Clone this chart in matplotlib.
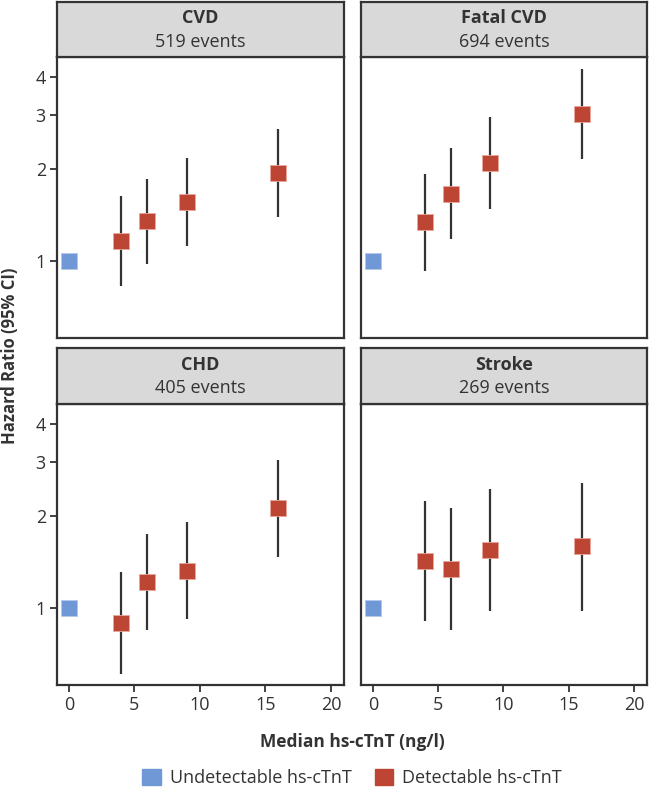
import numpy as np
import matplotlib.pyplot as plt
from matplotlib.patches import Patch

plt.rcParams['font.family'] = ['Open Sans', 'DejaVu Sans']

# data
titles = ["CVD", "Fatal CVD", "CHD", "Stroke"]
events = ["519 events", "694 events", "405 events", "269 events"]
x_det = [4, 6, 9, 16]
hr = [
    [1.16, 1.35, 1.56, 1.94],
    [1.34, 1.66, 2.09, 3.02],
    [0.89, 1.22, 1.32, 2.12],
    [1.42, 1.34, 1.55, 1.59],
]
lo = [
    [0.83, 0.98, 1.12, 1.39],
    [0.93, 1.18, 1.48, 2.15],
    [0.61, 0.85, 0.92, 1.47],
    [0.91, 0.85, 0.98, 0.98],
]
hi = [
    [1.63, 1.86, 2.17, 2.71],
    [1.93, 2.34, 2.95, 4.24],
    [1.31, 1.75, 1.91, 3.04],
    [2.24, 2.12, 2.45, 2.57],
]
ref_x = 0
ref_hr = 1.0

blue = "#7097d6"
red = "#bd4534"
dark = "#333333"

W, H = 649, 790
fig = plt.figure(figsize=(W / 100, H / 100), dpi=100)


def frac(x0, y0, x1, y1):
    return [x0 / W, 1 - y1 / H, (x1 - x0) / W, (y1 - y0) / H]


cols = [(57, 344), (361, 647)]
rows = [(2, 57, 338), (348, 404, 685)]

for i in range(4):
    r, c = divmod(i, 2)
    x0, x1 = cols[c]
    s0, p0, p1 = rows[r]
    ax = fig.add_axes(frac(x0, p0, x1, p1))
    ax.set_yscale("log")
    ax.set_xlim(-0.9, 21)
    ax.set_ylim(0.56, 4.65)
    ax.vlines(x_det, lo[i], hi[i], color=dark, lw=1.6, zorder=2)
    ax.plot(x_det, hr[i], ls="none", marker="s", ms=11, color=red,
            mec="#e8a79c", mew=0.6, zorder=3)
    ax.plot([ref_x], [ref_hr], ls="none", marker="s", ms=11, color=blue,
            mec="#b4c8ea", mew=0.6, zorder=3)
    ax.set_yticks([1, 2, 3, 4])
    ax.set_yticklabels(["1", "2", "3", "4"])
    ax.yaxis.set_minor_locator(plt.NullLocator())
    ax.set_xticks([0, 5, 10, 15, 20])
    ax.tick_params(length=5, width=1.3, color=dark, labelsize=13,
                   labelcolor="#333333", pad=3)
    if c == 1:
        ax.tick_params(axis="y", left=False, labelleft=False)
    if r == 0:
        ax.tick_params(axis="x", bottom=False, labelbottom=False)
    for sp in ax.spines.values():
        sp.set_color(dark)
        sp.set_linewidth(1.6)

    sax = fig.add_axes(frac(x0, s0, x1, p0))
    sax.set_facecolor("#d9d9d9")
    sax.set_xticks([])
    sax.set_yticks([])
    for sp in sax.spines.values():
        sp.set_color(dark)
        sp.set_linewidth(1.6)
    sax.text(0.5, 0.70, titles[i], ha="center", va="center", fontsize=13,
             fontweight="bold", color="#333333", transform=sax.transAxes)
    sax.text(0.5, 0.28, events[i], ha="center", va="center", fontsize=13,
             color="#333333", transform=sax.transAxes)

fig.text(10 / W, 1 - 356 / H, "Hazard Ratio (95% CI)", rotation=90,
         ha="center", va="center", fontsize=12, fontweight="bold",
         color="#333333")
fig.text(352 / W, 1 - 742 / H, "Median hs-cTnT (ng/l)", ha="center",
         va="center", fontsize=12.5, fontweight="bold", color="#333333")

handles = [Patch(color=blue, label="Undetectable hs-cTnT"),
           Patch(color=red, label="Detectable hs-cTnT")]
fig.legend(handles=handles, loc="center", bbox_to_anchor=(352 / W, 1 - 778 / H),
           ncol=2, frameon=False, fontsize=13, handlelength=1.0,
           handleheight=1.0, columnspacing=1.3, handletextpad=0.5,
           labelcolor="#333333")

fig.savefig("out.png", dpi=100)
